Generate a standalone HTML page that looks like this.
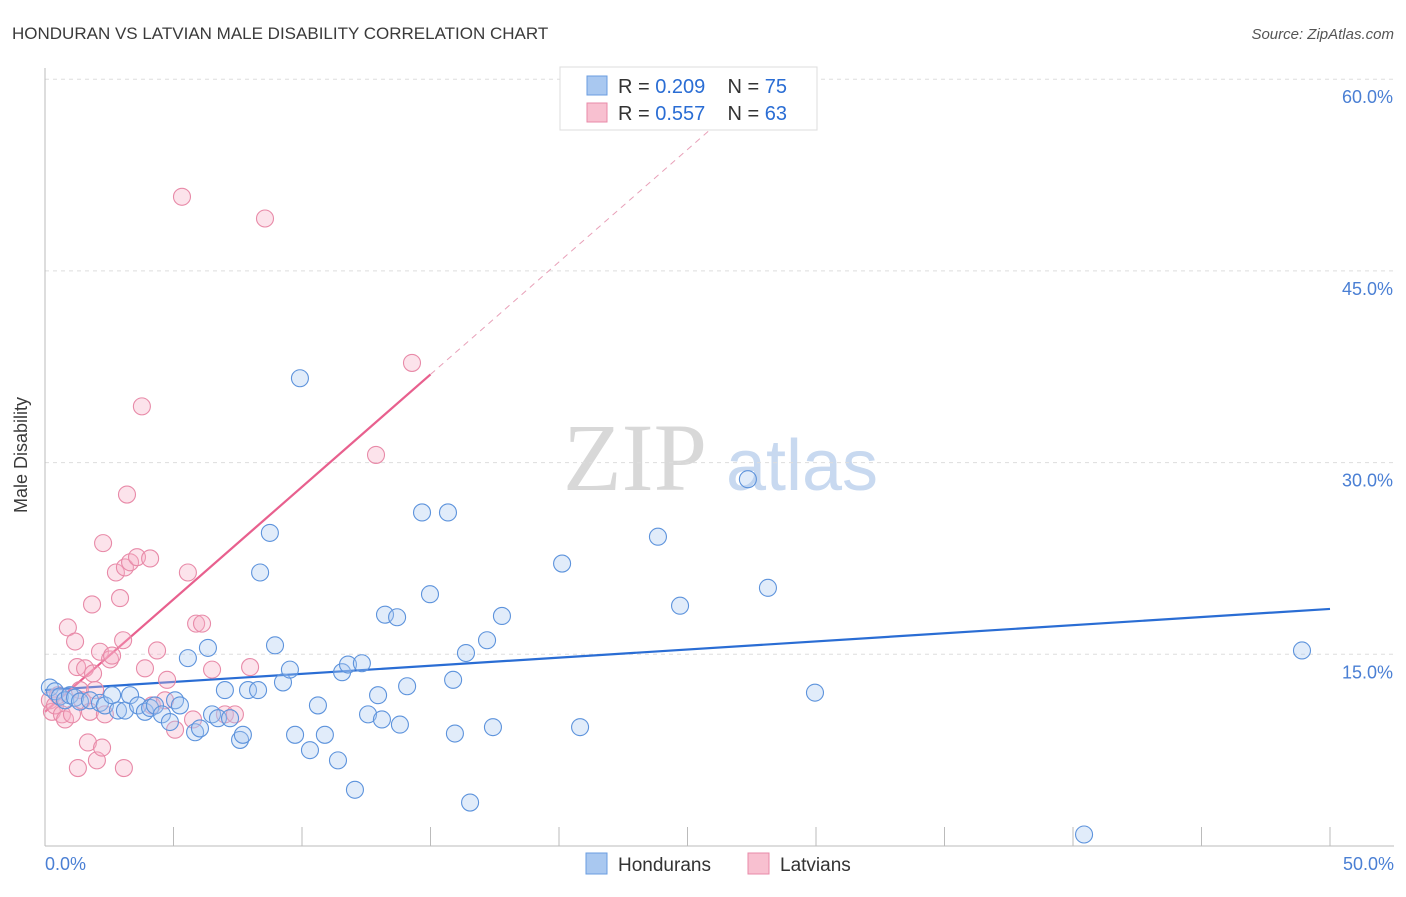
<!DOCTYPE html>
<html><head><meta charset="utf-8"><style>
body{margin:0;background:#fff;font-family:"Liberation Sans",sans-serif;}
svg text{font-family:"Liberation Sans",sans-serif;}
</style></head><body>
<svg id="chart" width="1406" height="892">
<text x="12" y="39" font-size="17" fill="#3a3a3a">HONDURAN VS LATVIAN MALE DISABILITY CORRELATION CHART</text>
<text x="1394" y="39" font-size="15" fill="#555" text-anchor="end" font-style="italic">Source: ZipAtlas.com</text>
<text x="635" y="490" font-size="96" fill="#d8d8d8" text-anchor="middle" style="font-family:'Liberation Serif',serif">ZIP</text>
<text x="802" y="490" font-size="72" fill="#c8d9f0" text-anchor="middle">atlas</text>
<g id="grid"></g><g id="axes"></g><g id="lines"></g><g id="pts"></g>
<text x="27" y="455" font-size="18" fill="#3a3a3a" text-anchor="middle" transform="rotate(-90 27 455)">Male Disability</text>
<g>
<rect x="560" y="67" width="257" height="63" fill="#fff" stroke="#ddd"/>
<rect x="587" y="76" width="20" height="19" fill="#a9c8f0" stroke="#6a9de0"/>
<text x="618" y="93" font-size="20" fill="#333">R = <tspan fill="#2a6dd4">0.209</tspan>&#160;&#160;&#160;&#160;N = <tspan fill="#2a6dd4">75</tspan></text>
<rect x="587" y="103" width="20" height="19" fill="#f8c0d0" stroke="#e88aa8"/>
<text x="618" y="120" font-size="20" fill="#333">R = <tspan fill="#2a6dd4">0.557</tspan>&#160;&#160;&#160;&#160;N = <tspan fill="#2a6dd4">63</tspan></text>
</g>
<g>
<rect x="586" y="853" width="21" height="21" fill="#a9c8f0" stroke="#6a9de0"/>
<text x="618" y="871" font-size="19" fill="#333">Hondurans</text>
<rect x="748" y="853" width="21" height="21" fill="#f8c0d0" stroke="#e88aa8"/>
<text x="780" y="871" font-size="19" fill="#333">Latvians</text>
</g>
</svg>
<script>
const yTicks=[15,30,45,60];
const yTickLabels=["15.0%","30.0%","45.0%","60.0%"];
const xTickLabels=["0.0%","50.0%"];
const blueX=[0.19,0.39,0.58,0.78,0.97,1.17,1.36,1.75,2.14,2.33,2.61,2.84,3.11,3.31,3.62,3.89,4.09,4.28,4.55,4.86,5.06,5.25,5.56,5.84,6.03,6.34,6.50,6.73,7.00,7.20,7.59,7.70,7.90,8.29,8.37,8.75,8.95,9.26,9.53,9.73,9.92,10.31,10.62,10.89,11.40,11.56,11.79,12.06,12.33,12.57,12.96,13.11,13.23,13.70,13.81,14.09,14.67,14.98,15.68,15.88,15.95,16.38,16.54,17.20,17.43,17.78,20.12,20.82,23.85,24.71,27.35,28.13,29.96,40.43,48.91];
const blueY=[12.4,12.1,11.7,11.4,11.8,11.6,11.3,11.4,11.2,11.0,11.8,10.6,10.6,11.8,11.0,10.5,10.8,11.0,10.3,9.7,11.4,11.0,14.7,8.9,9.2,15.5,10.3,10.0,12.2,10.0,8.3,8.7,12.2,12.2,21.4,24.5,15.7,12.8,13.8,8.7,36.6,7.5,11.0,8.7,6.7,13.6,14.2,4.4,14.3,10.3,11.8,9.9,18.1,17.9,9.5,12.5,26.1,19.7,26.1,13.0,8.8,15.1,3.4,16.1,9.3,18.0,22.1,9.3,24.2,18.8,28.7,20.2,12.0,0.9,15.3];
const pinkX=[0.19,0.27,0.39,0.51,0.66,0.78,0.89,1.05,1.17,1.25,1.28,1.36,1.44,1.56,1.67,1.75,1.83,1.87,1.95,2.02,2.14,2.22,2.26,2.33,2.53,2.61,2.76,2.92,3.04,3.07,3.11,3.19,3.31,3.58,3.77,3.89,4.09,4.16,4.36,4.67,4.75,5.06,5.33,5.56,5.76,5.88,6.11,6.50,7.00,7.39,7.98,8.56,12.88,14.28];
const pinkY=[11.4,10.5,11.0,11.8,10.3,9.9,17.1,10.3,16.0,14.0,6.1,12.2,11.4,13.9,8.1,10.5,18.9,13.5,12.2,6.7,15.2,7.7,23.7,10.3,14.6,14.9,21.4,19.4,16.1,6.1,21.8,27.5,22.2,22.6,34.4,13.9,22.5,11.0,15.3,11.4,13.0,9.1,50.8,21.4,9.9,17.4,17.4,13.8,10.3,10.3,14.0,49.1,30.6,37.8];
const blueTrend=[12.2,0.127];
const pinkTrend=[10.5,1.76];
const NS="http://www.w3.org/2000/svg";
const sx=v=>45+v*25.7, sy=v=>846-v*12.78;
function mk(parent,tag,attrs){const e=document.createElementNS(NS,tag);for(const k in attrs)e.setAttribute(k,attrs[k]);document.getElementById(parent).appendChild(e);return e;}
yTicks.forEach((t,i)=>{
 const g=mk('grid','line',{x1:45,x2:1394,y1:sy(t),y2:sy(t),stroke:'#ddd','stroke-dasharray':'4,4'});
 
 
 const tx=mk('grid','text',{x:1393,y:sy(t)+24,'font-size':18,fill:'#4a7fd4','text-anchor':'end'});tx.textContent=yTickLabels[i];
 
 
});
const ax=mk('axes','line',{x1:45,x2:1394,y1:846,y2:846,stroke:'#bbb'});


const ay=mk('axes','line',{x1:45,x2:45,y1:68,y2:846,stroke:'#bbb'});


for(let i=0;i<=10;i++){const t=mk('axes','line',{x1:sx(i*5),x2:sx(i*5),y1:827,y2:846,stroke:'#bbb'});
 
 }
[[0,'start',45],[50,'end',1394]].forEach((d,i)=>{const t=mk('axes','text',{x:d[2],y:870,'font-size':18,fill:'#4a7fd4','text-anchor':d[1]});t.textContent=xTickLabels[i];
 
 });
function dots(X,Y,fill,stroke,name){X.forEach((x,i)=>{const c=mk('pts','circle',{cx:sx(x),cy:sy(Y[i]),r:8.5,fill:fill,'fill-opacity':0.35,stroke:stroke,'stroke-width':1.1});
 
 });}
dots(pinkX,pinkY,'#f5b0c5','#e88aa8','latvian-point');
dots(blueX,blueY,'#a9c8f0','#5d93dc','honduran-point');
const bl=mk('lines','line',{x1:sx(0),y1:sy(blueTrend[0]),x2:sx(50),y2:sy(blueTrend[0]+blueTrend[1]*50),stroke:'#2a6dd4','stroke-width':2.2});


const pl=mk('lines','line',{x1:sx(0),y1:sy(pinkTrend[0]),x2:sx(15),y2:sy(pinkTrend[0]+pinkTrend[1]*15),stroke:'#e8608e','stroke-width':2.2});


const pd=mk('lines','line',{x1:sx(15),y1:sy(pinkTrend[0]+pinkTrend[1]*15),x2:sx(26.3),y2:sy(pinkTrend[0]+pinkTrend[1]*26.3),stroke:'#e8a0b8','stroke-width':1,'stroke-dasharray':'6,5'});


</script>
</body></html>
